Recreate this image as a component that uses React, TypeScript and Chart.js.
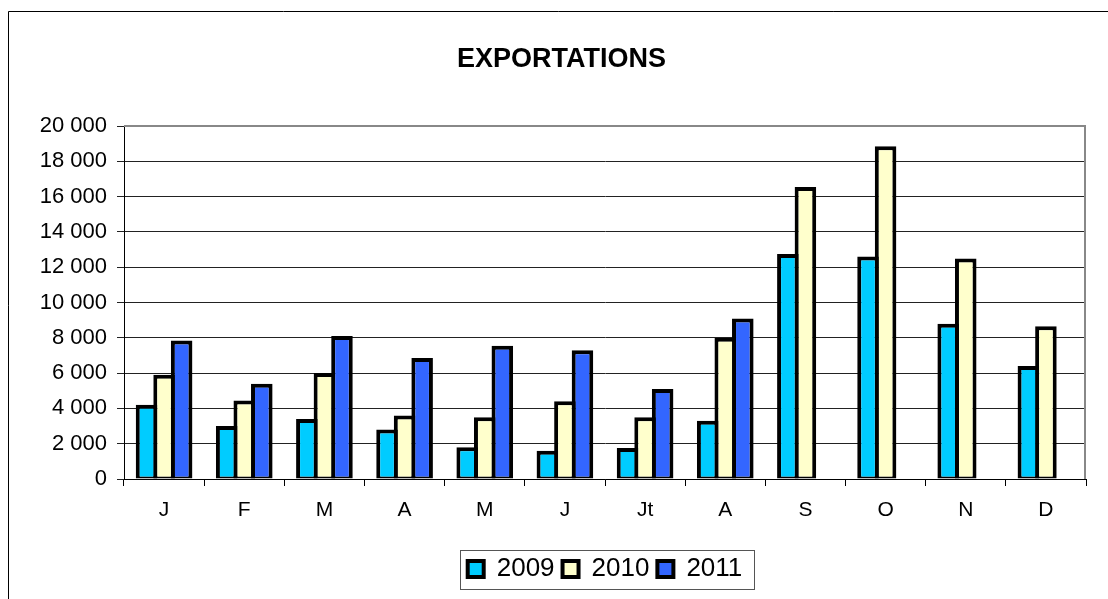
import { useEffect, useRef } from 'react';
import { Chart, registerables } from 'chart.js';

Chart.register(...registerables);

const chartTitle = 'EXPORTATIONS';
const months = ['J', 'F', 'M', 'A', 'M', 'J', 'Jt', 'A', 'S', 'O', 'N', 'D'];
const seriesLabels = ['2009', '2010', '2011'];
const values2009 = [4200, 3000, 3400, 2800, 1800, 1600, 1750, 3300, 12750, 12600, 8800, 6400];
const values2010 = [5900, 4450, 6000, 3600, 3500, 4400, 3500, 8000, 16550, 18850, 12500, 8650];
const values2011 = [7850, 5400, 8100, 6850, 7550, 7300, 5100, 9100, null, null, null, null];
const yMin = 0;
const yMax = 20000;
const yStep = 2000;
const seriesColors = ['#00CCFF', '#FFFFCC', '#3366FF'];

const FONT = '"Liberation Sans", Arial, sans-serif';

const formatThousands = (v: number) =>
  String(v).replace(/\B(?=(\d{3})+(?!\d))/g, ' ');

const framePlugin = {
  id: 'frame',
  beforeDraw(chart: any) {
    const ctx = chart.ctx;
    ctx.save();
    ctx.fillStyle = '#ffffff';
    ctx.fillRect(0, 0, chart.width, chart.height);
    ctx.restore();
  },
  afterDraw(chart: any) {
    const ctx = chart.ctx;
    const { top, right, bottom, left } = chart.chartArea;
    ctx.save();
    // outer chart border
    ctx.strokeStyle = '#000000';
    ctx.lineWidth = 1;
    ctx.beginPath();
    ctx.moveTo(8.5, chart.height);
    ctx.lineTo(8.5, 11.5);
    ctx.lineTo(chart.width, 11.5);
    ctx.stroke();
    // plot area border (top & right, gray)
    ctx.strokeStyle = '#888888';
    ctx.lineWidth = 2;
    ctx.beginPath();
    ctx.moveTo(left, top);
    ctx.lineTo(right - 1, top);
    ctx.lineTo(right - 1, bottom);
    ctx.stroke();
    // legend frame
    const lg = chart.legend;
    const hb = lg && lg.legendHitBoxes;
    if (hb && hb.length) {
      const first = hb[0];
      const last = hb[hb.length - 1];
      const cy = first.top + first.height / 2;
      const x0 = Math.round(first.left - 8) + 0.5;
      const x1 = Math.round(last.left + last.width + 12) + 0.5;
      const y0 = Math.round(cy - 19.5) + 0.5;
      const y1 = Math.round(cy + 19.5) + 0.5;
      ctx.strokeStyle = '#555555';
      ctx.lineWidth = 1;
      ctx.strokeRect(x0, y0, x1 - x0, y1 - y0);
    }
    ctx.restore();
  },
};

export default function App() {
  const canvasRef = useRef<HTMLCanvasElement | null>(null);

  useEffect(() => {
    if (!canvasRef.current) return;
    Chart.defaults.color = '#000000';
    Chart.defaults.font.family = FONT;
    const border = { top: 4, left: 4, right: 4, bottom: 2 };
    const seriesValues = [values2009, values2010, values2011];
    const chart = new Chart(canvasRef.current, {
      type: 'bar',
      data: {
        labels: months,
        datasets: seriesLabels.map((label, i) => ({
          label,
          data: seriesValues[i],
          backgroundColor: seriesColors[i],
          borderColor: '#000000',
          borderWidth: border,
          borderSkipped: false,
          categoryPercentage: 0.657,
          barPercentage: 1.228,
        })),
      },
      options: {
        animation: false,
        responsive: true,
        maintainAspectRatio: false,
        layout: { padding: { top: 11, left: 37, right: 22, bottom: 7 } },
        plugins: {
          title: {
            display: true,
            text: chartTitle,
            color: '#000000',
            font: { family: FONT, size: 27, weight: 'bold' },
            padding: { top: 32, bottom: 50.6 },
          },
          legend: {
            display: true,
            position: 'bottom',
            fullSize: false,
            labels: {
              boxWidth: 16,
              boxHeight: 16,
              padding: 8,
              color: '#000000',
              font: { family: FONT, size: 26 },
              generateLabels: (c: any) =>
                (Chart.defaults.plugins.legend.labels as any)
                  .generateLabels(c)
                  .map((l: any) => ({ ...l, lineWidth: 4, strokeStyle: '#000000' })),
            },
          },
          tooltip: { enabled: false },
        },
        scales: {
          x: {
            offset: true,
            grid: {
              display: true,
              drawOnChartArea: false,
              drawTicks: true,
              tickLength: 7,
              color: '#000000',
              offset: true,
            },
            border: { display: true, color: '#000000', width: 1 },
            ticks: {
              color: '#000000',
              font: { family: FONT, size: 21 },
              padding: 12,
              maxRotation: 0,
              autoSkip: false,
            },
            afterFit: (s: any) => {
              s.height = 69;
            },
          },
          y: {
            min: yMin,
            max: yMax,
            grid: {
              color: '#222222',
              lineWidth: 1,
              drawTicks: true,
              tickLength: 7,
            },
            border: { display: true, color: '#000000', width: 1 },
            ticks: {
              stepSize: yStep,
              color: '#000000',
              font: { family: FONT, size: 22 },
              padding: 10,
              callback: (v: any) => formatThousands(Number(v)),
            },
            afterFit: (s: any) => {
              s.width = 87;
            },
          },
        },
      } as any,
      plugins: [framePlugin],
    });
    return () => chart.destroy();
  }, []);

  return (
    <div style={{ position: 'fixed', left: 0, top: 0, width: '1108px', height: '599px', background: '#fff' }}>
      <canvas ref={canvasRef} />
    </div>
  );
}
